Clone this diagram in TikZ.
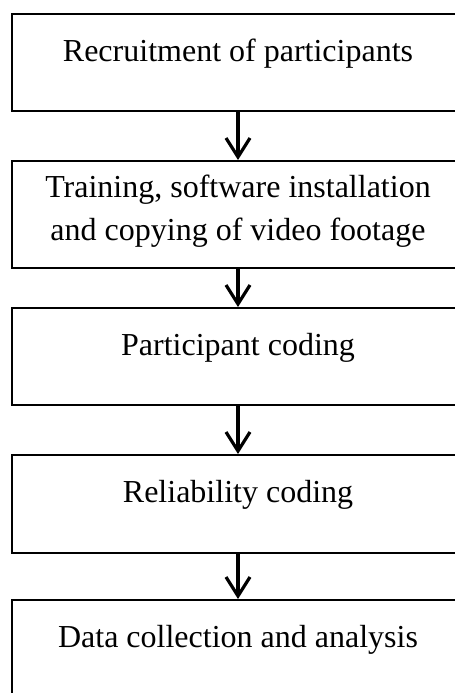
\documentclass[tikz,border=0pt]{standalone}
\usepackage{fontspec}
\setmainfont{Liberation Serif}
\usetikzlibrary{arrows.meta}

\tikzset{
  stagebox/.style={draw, line width=2bp, rectangle, minimum width=452bp,
    inner sep=0pt, anchor=north},
  stagetext/.style={anchor=base, align=center, inner sep=0pt,
    font=\fontsize{32bp}{43bp}\selectfont},
  flowarrow/.style={line width=3.2bp,
    -{Straight Barb[length=19bp,width=24bp,line width=3.2bp]}}
}

\begin{document}
\begin{tikzpicture}[x=1bp,y=-1bp]
  \useasboundingbox (0,0) rectangle (455,693);
  \clip (0,0) rectangle (455,693);

  % stage boxes (the right side runs past the page edge)
  \node[stagebox, minimum height=97bp]  (b1) at (238,13)  {};
  \node[stagebox, minimum height=107bp] (b2) at (238,160) {};
  \node[stagebox, minimum height=97bp]  (b3) at (238,307) {};
  \node[stagebox, minimum height=98bp]  (b4) at (238,454) {};
  \node[stagebox, minimum height=120bp] (b5) at (238,599) {};

  % stage labels (base anchor sits on the last line)
  \node[stagetext] (t1) at (238,62)  {Recruitment of participants};
  \node[stagetext] (t2) at (238,240) {Training, software installation\\and copying of video footage};
  \node[stagetext] (t3) at (238,355) {Participant coding};
  \node[stagetext] (t4) at (238,502) {Reliability coding};
  \node[stagetext] (t5) at (238,647) {Data collection and analysis};

  % flow between stages
  \draw[flowarrow] (b1.south) -- (b2.north);
  \draw[flowarrow] (b2.south) -- (b3.north);
  \draw[flowarrow] (b3.south) -- (b4.north);
  \draw[flowarrow] (b4.south) -- (b5.north);
\end{tikzpicture}
\end{document}
